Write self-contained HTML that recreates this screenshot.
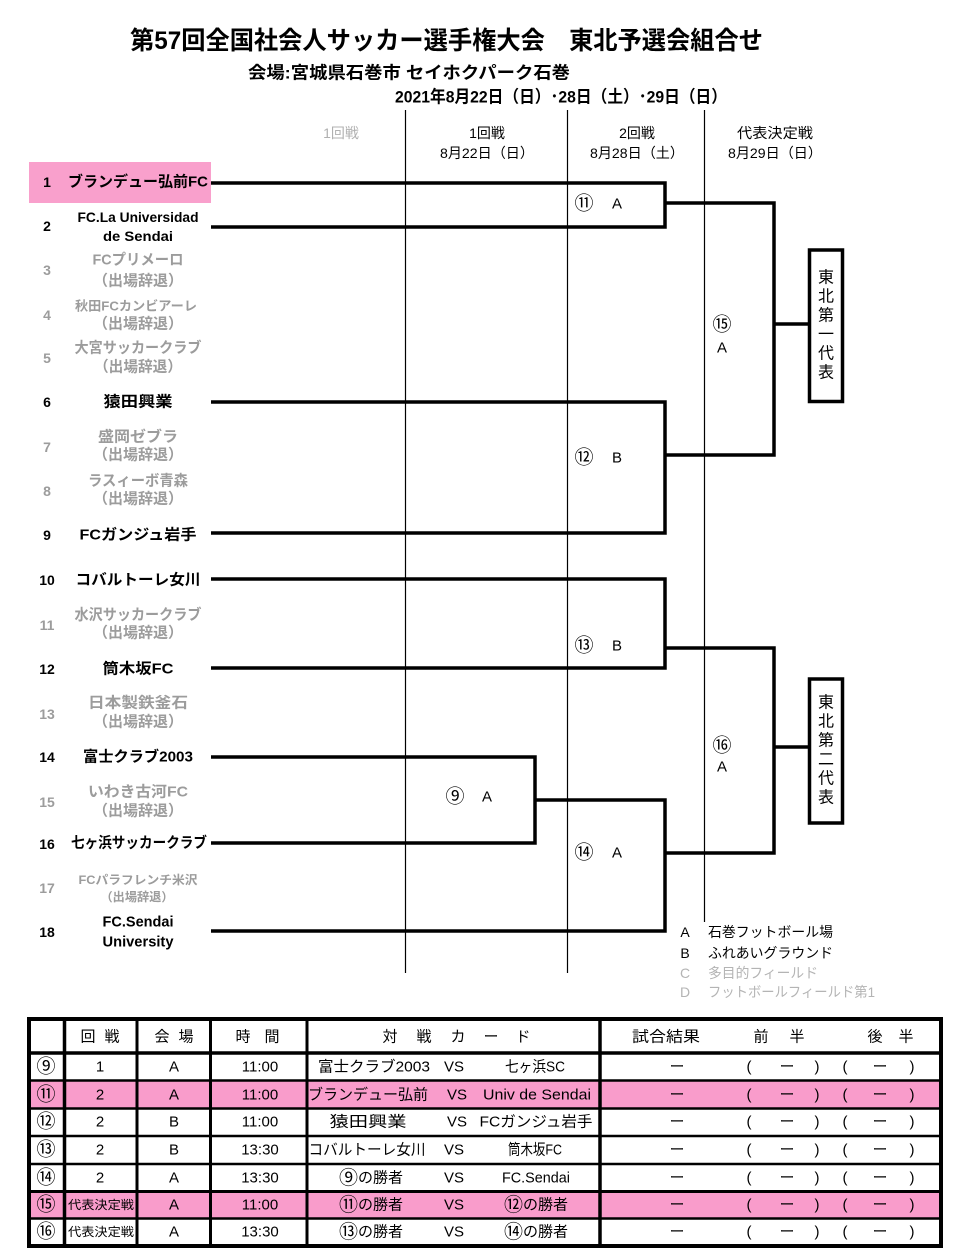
<!DOCTYPE html>
<html><head><meta charset="utf-8"><style>
html,body{margin:0;padding:0;background:#fff;}
svg{display:block;}
text{font-family:"Liberation Sans","Noto Sans CJK JP",sans-serif;dominant-baseline:central;}
.b{font-weight:bold;}
.g{fill:#9c9c9c;}
.m{text-anchor:middle;}
.c{font-size:19px;}
</style></head><body>
<svg width="960" height="1260" viewBox="0 0 960 1260" xmlns="http://www.w3.org/2000/svg">
<rect width="960" height="1260" fill="#fff"/>

<!-- Titles -->
<text x="130" y="41" font-size="25" class="b" textLength="633" lengthAdjust="spacingAndGlyphs">第57回全国社会人サッカー選手権大会　東北予選会組合せ</text>
<text x="248" y="73" font-size="17" class="b" textLength="322" lengthAdjust="spacingAndGlyphs">会場:宮城県石巻市 セイホクパーク石巻</text>
<text x="395" y="97" font-size="17" class="b" textLength="332" lengthAdjust="spacingAndGlyphs">2021年8月22日（日）･28日（土）･29日（日）</text>

<!-- Column headers -->
<text x="341" y="133" font-size="14" class="m" fill="#b0b0b0">1回戦</text>
<text x="487" y="133" font-size="14" class="m">1回戦</text>
<text x="487" y="153" font-size="14" class="m" textLength="94" lengthAdjust="spacingAndGlyphs">8月22日（日）</text>
<text x="637" y="133" font-size="14" class="m">2回戦</text>
<text x="637" y="153" font-size="14" class="m" textLength="94" lengthAdjust="spacingAndGlyphs">8月28日（土）</text>
<text x="775" y="133" font-size="14" class="m" textLength="76" lengthAdjust="spacingAndGlyphs">代表決定戦</text>
<text x="775" y="153" font-size="14" class="m" textLength="94" lengthAdjust="spacingAndGlyphs">8月29日（日）</text>

<!-- thin vertical guide lines -->
<line x1="405.5" y1="110" x2="405.5" y2="973" stroke="#000" stroke-width="1.2"/>
<line x1="567.5" y1="110" x2="567.5" y2="973" stroke="#000" stroke-width="1.2"/>
<line x1="704.5" y1="110" x2="704.5" y2="922" stroke="#000" stroke-width="1.2"/>

<!-- Team 1 pink box -->
<rect x="29" y="162" width="182" height="41" fill="#f9a0cc"/>

<!-- Team numbers -->
<g font-size="14" class="b m">
<text x="47" y="182">1</text>
<text x="47" y="226">2</text>
<text x="47" y="270" class="g">3</text>
<text x="47" y="315" class="g">4</text>
<text x="47" y="358" class="g">5</text>
<text x="47" y="402">6</text>
<text x="47" y="447" class="g">7</text>
<text x="47" y="491" class="g">8</text>
<text x="47" y="535">9</text>
<text x="47" y="580">10</text>
<text x="47" y="625" class="g">11</text>
<text x="47" y="669">12</text>
<text x="47" y="714" class="g">13</text>
<text x="47" y="757">14</text>
<text x="47" y="802" class="g">15</text>
<text x="47" y="844">16</text>
<text x="47" y="888" class="g">17</text>
<text x="47" y="932">18</text>
</g>

<!-- Team names -->
<g font-size="15" class="b m">
<text x="138" y="182" textLength="140" lengthAdjust="spacingAndGlyphs">ブランデュー弘前FC</text>
<text x="138" y="217" font-size="14" textLength="121" lengthAdjust="spacingAndGlyphs">FC.La Universidad</text>
<text x="138" y="236" font-size="14" textLength="70" lengthAdjust="spacingAndGlyphs">de Sendai</text>
<text x="138" y="260" class="g" textLength="91" lengthAdjust="spacingAndGlyphs">FCプリメーロ</text>
<text x="138" y="281" class="g" textLength="90" lengthAdjust="spacingAndGlyphs">（出場辞退）</text>
<text x="136" y="306" class="g" font-size="13" textLength="122" lengthAdjust="spacingAndGlyphs">秋田FCカンビアーレ</text>
<text x="138" y="324" class="g" textLength="90" lengthAdjust="spacingAndGlyphs">（出場辞退）</text>
<text x="138" y="348" class="g" textLength="127" lengthAdjust="spacingAndGlyphs">大宮サッカークラブ</text>
<text x="138" y="367" class="g" textLength="88" lengthAdjust="spacingAndGlyphs">（出場辞退）</text>
<text x="138" y="402" textLength="69" lengthAdjust="spacingAndGlyphs">猿田興業</text>
<text x="138" y="437" class="g" textLength="80" lengthAdjust="spacingAndGlyphs">盛岡ゼブラ</text>
<text x="138" y="455" class="g" textLength="90" lengthAdjust="spacingAndGlyphs">（出場辞退）</text>
<text x="138" y="481" class="g" textLength="100" lengthAdjust="spacingAndGlyphs">ラスィーボ青森</text>
<text x="138" y="499" class="g" textLength="90" lengthAdjust="spacingAndGlyphs">（出場辞退）</text>
<text x="138" y="535" textLength="117" lengthAdjust="spacingAndGlyphs">FCガンジュ岩手</text>
<text x="138" y="580" textLength="125" lengthAdjust="spacingAndGlyphs">コバルトーレ女川</text>
<text x="138" y="615" class="g" textLength="127" lengthAdjust="spacingAndGlyphs">水沢サッカークラブ</text>
<text x="138" y="633" class="g" textLength="90" lengthAdjust="spacingAndGlyphs">（出場辞退）</text>
<text x="138" y="669" textLength="71" lengthAdjust="spacingAndGlyphs">筒木坂FC</text>
<text x="138" y="703" class="g" textLength="100" lengthAdjust="spacingAndGlyphs">日本製鉄釜石</text>
<text x="138" y="722" class="g" textLength="90" lengthAdjust="spacingAndGlyphs">（出場辞退）</text>
<text x="138" y="757" textLength="110" lengthAdjust="spacingAndGlyphs">富士クラブ2003</text>
<text x="138" y="792" class="g" textLength="100" lengthAdjust="spacingAndGlyphs">いわき古河FC</text>
<text x="138" y="811" class="g" textLength="90" lengthAdjust="spacingAndGlyphs">（出場辞退）</text>
<text x="139" y="843" textLength="136" lengthAdjust="spacingAndGlyphs">七ヶ浜サッカークラブ</text>
<text x="138" y="880" class="g" font-size="12" textLength="119" lengthAdjust="spacingAndGlyphs">FCパラフレンチ米沢</text>
<text x="137" y="897" class="g" font-size="12" textLength="73" lengthAdjust="spacingAndGlyphs">（出場辞退）</text>
<text x="138" y="922" textLength="71" lengthAdjust="spacingAndGlyphs">FC.Sendai</text>
<text x="138" y="942" textLength="71" lengthAdjust="spacingAndGlyphs">University</text>
</g>

<!-- Bracket lines -->
<g fill="none" stroke="#000" stroke-width="3.5" stroke-linejoin="miter">
<path d="M211,183 H665 V227 H211"/>
<path d="M665,203 H774 V455 H665"/>
<path d="M211,402 H665 V533 H211"/>
<path d="M774,324 H808"/>
<path d="M211,579 H665 V668 H211"/>
<path d="M665,648 H774 V853 H665"/>
<path d="M211,757 H535 V843 H211"/>
<path d="M535,800 H665 V931 H211"/>
<path d="M774,747 H808"/>
<rect x="809.5" y="250" width="33" height="151.5" fill="#fff"/>
<rect x="809.5" y="679" width="33" height="144" fill="#fff"/>
</g>

<!-- Box labels -->
<g font-size="16" class="m">
<text x="826" y="278">東</text><text x="826" y="297">北</text><text x="826" y="316">第</text><text x="826" y="335">一</text><text x="826" y="354">代</text><text x="826" y="373">表</text>
<text x="826" y="703">東</text><text x="826" y="722">北</text><text x="826" y="741">第</text><text x="826" y="760">二</text><text x="826" y="779">代</text><text x="826" y="798">表</text>
</g>

<!-- Match labels -->
<g font-size="15">
<text x="584" y="204" class="m c">⑪</text><text x="617" y="204" class="m">A</text>
<text x="584" y="458" class="m c">⑫</text><text x="617" y="458" class="m">B</text>
<text x="584" y="646" class="m c">⑬</text><text x="617" y="646" class="m">B</text>
<text x="584" y="853" class="m c">⑭</text><text x="617" y="853" class="m">A</text>
<text x="455" y="797" class="m c">⑨</text><text x="487" y="797" class="m">A</text>
<text x="722" y="325" class="m c">⑮</text><text x="722" y="348" class="m">A</text>
<text x="722" y="746" class="m c">⑯</text><text x="722" y="767" class="m">A</text>
</g>

<!-- Legend -->
<g font-size="14">
<text x="685" y="932" class="m">A</text><text x="708" y="932" textLength="125" lengthAdjust="spacingAndGlyphs">石巻フットボール場</text>
<text x="685" y="953" class="m">B</text><text x="708" y="953" textLength="125" lengthAdjust="spacingAndGlyphs">ふれあいグラウンド</text>
<text x="685" y="973" class="m" fill="#b4b4b4">C</text><text x="708" y="973" fill="#b4b4b4" textLength="110" lengthAdjust="spacingAndGlyphs">多目的フィールド</text>
<text x="685" y="992" class="m" fill="#b4b4b4">D</text><text x="708" y="992" fill="#b4b4b4" textLength="167" lengthAdjust="spacingAndGlyphs">フットボールフィールド第1</text>
</g>

<!-- Table -->
<rect x="29" y="1081" width="912" height="27.5" fill="#f99ccb"/>
<rect x="29" y="1191.5" width="912" height="27" fill="#f99ccb"/>
<g stroke="#000" fill="none">
<line x1="29" y1="1053" x2="941" y2="1053" stroke-width="3.5"/>
<line x1="29" y1="1080.5" x2="941" y2="1080.5" stroke-width="2.5"/>
<line x1="29" y1="1108.5" x2="941" y2="1108.5" stroke-width="2.5"/>
<line x1="29" y1="1136" x2="941" y2="1136" stroke-width="2.5"/>
<line x1="29" y1="1164" x2="941" y2="1164" stroke-width="2.5"/>
<line x1="29" y1="1191.5" x2="941" y2="1191.5" stroke-width="3"/>
<line x1="29" y1="1218.5" x2="941" y2="1218.5" stroke-width="2.5"/>
<line x1="64.5" y1="1019" x2="64.5" y2="1246" stroke-width="3.5"/>
<line x1="137" y1="1019" x2="137" y2="1246" stroke-width="3"/>
<line x1="210.5" y1="1019" x2="210.5" y2="1246" stroke-width="3"/>
<line x1="307" y1="1019" x2="307" y2="1246" stroke-width="3"/>
<line x1="600" y1="1019" x2="600" y2="1246" stroke-width="3.5"/>
<rect x="29" y="1019" width="912" height="227" stroke-width="4"/>
</g>

<!-- Table header -->
<g font-size="15" class="m">
<text x="88" y="1037">回</text><text x="112" y="1037">戦</text>
<text x="162" y="1037">会</text><text x="186" y="1037">場</text>
<text x="243" y="1037">時</text><text x="272" y="1037">間</text>
<text x="390" y="1037">対</text><text x="424" y="1037">戦</text><text x="458" y="1037">カ</text><text x="491" y="1037">ー</text><text x="523" y="1037">ド</text>
<text x="666" y="1037" textLength="68" lengthAdjust="spacingAndGlyphs">試合結果</text>
<text x="761" y="1037">前</text><text x="797" y="1037">半</text>
<text x="875" y="1037">後</text><text x="906" y="1037">半</text>
</g>

<!-- Table rows -->
<g font-size="15" class="m">
<!-- row 9 -->
<text x="46" y="1067" class="c">⑨</text><text x="100" y="1067">1</text><text x="174" y="1067">A</text><text x="260" y="1067">11:00</text>
<text x="374" y="1067" textLength="112" lengthAdjust="spacingAndGlyphs">富士クラブ2003</text><text x="454" y="1067">VS</text><text x="535" y="1067" textLength="60" lengthAdjust="spacingAndGlyphs">七ヶ浜SC</text>
<!-- row 11 -->
<text x="46" y="1095" class="c">⑪</text><text x="100" y="1095">2</text><text x="174" y="1095">A</text><text x="260" y="1095">11:00</text>
<text x="368" y="1095" textLength="120" lengthAdjust="spacingAndGlyphs">ブランデュー弘前</text><text x="457" y="1095">VS</text><text x="537" y="1095" textLength="108" lengthAdjust="spacingAndGlyphs">Univ de Sendai</text>
<!-- row 12 -->
<text x="46" y="1122" class="c">⑫</text><text x="100" y="1122">2</text><text x="174" y="1122">B</text><text x="260" y="1122">11:00</text>
<text x="368" y="1122" textLength="77" lengthAdjust="spacingAndGlyphs">猿田興業</text><text x="457" y="1122">VS</text><text x="536" y="1122" textLength="113" lengthAdjust="spacingAndGlyphs">FCガンジュ岩手</text>
<!-- row 13 -->
<text x="46" y="1150" class="c">⑬</text><text x="100" y="1150">2</text><text x="174" y="1150">B</text><text x="260" y="1150">13:30</text>
<text x="367" y="1150" textLength="117" lengthAdjust="spacingAndGlyphs">コバルトーレ女川</text><text x="454" y="1150">VS</text><text x="535" y="1150" textLength="54" lengthAdjust="spacingAndGlyphs">筒木坂FC</text>
<!-- row 14 -->
<text x="46" y="1178" class="c">⑭</text><text x="100" y="1178">2</text><text x="174" y="1178">A</text><text x="260" y="1178">13:30</text>
<text x="371" y="1178"><tspan class="c">⑨</tspan>の勝者</text><text x="454" y="1178">VS</text><text x="536" y="1178" textLength="68" lengthAdjust="spacingAndGlyphs">FC.Sendai</text>
<!-- row 15 -->
<text x="46" y="1205" class="c">⑮</text><text x="101" y="1205" font-size="12" textLength="66" lengthAdjust="spacingAndGlyphs">代表決定戦</text><text x="174" y="1205">A</text><text x="260" y="1205">11:00</text>
<text x="371" y="1205"><tspan class="c">⑪</tspan>の勝者</text><text x="454" y="1205">VS</text><text x="536" y="1205"><tspan class="c">⑫</tspan>の勝者</text>
<!-- row 16 -->
<text x="46" y="1232" class="c">⑯</text><text x="101" y="1232" font-size="12" textLength="66" lengthAdjust="spacingAndGlyphs">代表決定戦</text><text x="174" y="1232">A</text><text x="260" y="1232">13:30</text>
<text x="371" y="1232"><tspan class="c">⑬</tspan>の勝者</text><text x="454" y="1232">VS</text><text x="536" y="1232"><tspan class="c">⑭</tspan>の勝者</text>
</g>

<!-- Result columns -->
<g font-size="15" class="m">
<text x="677" y="1067">ー</text><text x="749" y="1067">(</text><text x="787" y="1067">ー</text><text x="817" y="1067">)</text><text x="845" y="1067">(</text><text x="880" y="1067">ー</text><text x="912" y="1067">)</text>
<text x="677" y="1095">ー</text><text x="749" y="1095">(</text><text x="787" y="1095">ー</text><text x="817" y="1095">)</text><text x="845" y="1095">(</text><text x="880" y="1095">ー</text><text x="912" y="1095">)</text>
<text x="677" y="1122">ー</text><text x="749" y="1122">(</text><text x="787" y="1122">ー</text><text x="817" y="1122">)</text><text x="845" y="1122">(</text><text x="880" y="1122">ー</text><text x="912" y="1122">)</text>
<text x="677" y="1150">ー</text><text x="749" y="1150">(</text><text x="787" y="1150">ー</text><text x="817" y="1150">)</text><text x="845" y="1150">(</text><text x="880" y="1150">ー</text><text x="912" y="1150">)</text>
<text x="677" y="1178">ー</text><text x="749" y="1178">(</text><text x="787" y="1178">ー</text><text x="817" y="1178">)</text><text x="845" y="1178">(</text><text x="880" y="1178">ー</text><text x="912" y="1178">)</text>
<text x="677" y="1205">ー</text><text x="749" y="1205">(</text><text x="787" y="1205">ー</text><text x="817" y="1205">)</text><text x="845" y="1205">(</text><text x="880" y="1205">ー</text><text x="912" y="1205">)</text>
<text x="677" y="1232">ー</text><text x="749" y="1232">(</text><text x="787" y="1232">ー</text><text x="817" y="1232">)</text><text x="845" y="1232">(</text><text x="880" y="1232">ー</text><text x="912" y="1232">)</text>
</g>
</svg>
</body></html>
